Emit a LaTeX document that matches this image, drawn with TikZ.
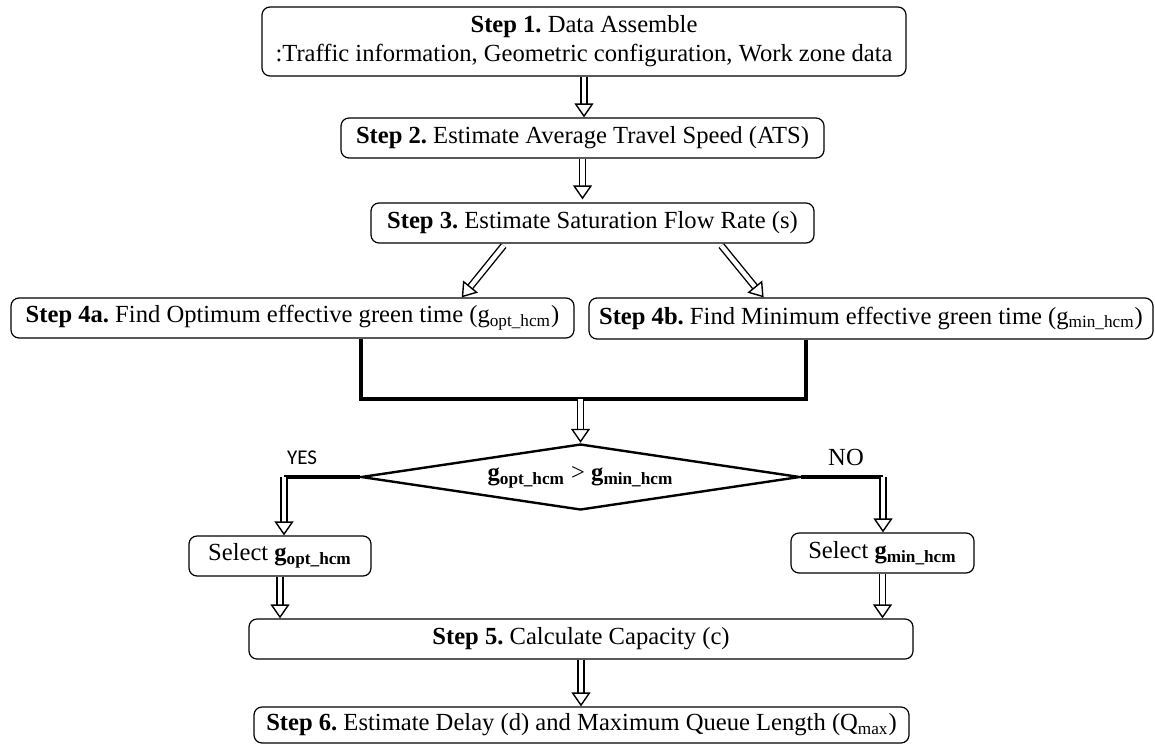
\documentclass[tikz,border=0pt]{standalone}
\usepackage{fontspec}
\setmainfont{Liberation Serif}
\newfontfamily\yesfont{Carlito}
\usepackage{tikz}
\usetikzlibrary{arrows.meta}
\usetikzlibrary{shapes.geometric}
\usetikzlibrary{calc}
\frenchspacing
\tikzset{box/.style={draw, rounded corners=4pt, line width=0.6pt, align=center, inner sep=0pt}}
\tikzset{flow/.style={double, double distance=2.2pt, line width=0.7pt,
  -{Triangle[open, fill=white, length=7pt, width=9.5pt, line width=0.7pt]}}}
\tikzset{merge/.style={line width=2pt}}
\tikzset{l/.style={font=\fontsize{12.3}{14.5}\selectfont}}

\begin{document}
\begin{tikzpicture}[x=0.5pt, y=-0.5pt, l]
    \useasboundingbox (0,0) rectangle (1155,744);
    \node[box, minimum width=322pt, minimum height=34.5pt] (step1) at (584,41.5)
      {\textbf{Step 1.} Data Assemble\\:Traffic information, Geometric configuration, Work zone data};
    \node[box, minimum width=241.5pt, minimum height=20pt] (step2) at (582.5,138)
      {\textbf{Step 2.} Estimate Average Travel Speed (ATS)};
    \node[box, minimum width=221.5pt, minimum height=20pt] (step3) at (592.5,223)
      {\textbf{Step 3.} Estimate Saturation Flow Rate (s)};
    \node[box, minimum width=281.5pt, minimum height=20pt] (step4a) at (292.5,318)
      {\textbf{Step 4a.} Find Optimum effective green time (g\textsubscript{opt\_hcm})};
    \node[box, minimum width=282pt, minimum height=20.5pt] (step4b) at (871,318.5)
      {\textbf{Step 4b.} Find Minimum effective green time (g\textsubscript{min\_hcm})};
    \node[diamond, draw, line width=1.2pt, aspect=6.6, inner sep=0pt,
      minimum width=219.5pt, minimum height=33pt] (test) at (580.5,477)
      {\textbf{g\textsubscript{opt\_hcm}} > \textbf{g\textsubscript{min\_hcm}}};
    \node[box, minimum width=91pt, minimum height=20pt] (selopt) at (280,556)
      {Select \textbf{g\textsubscript{opt\_hcm}}};
    \node[box, minimum width=91.5pt, minimum height=20pt] (selmin) at (882.5,553)
      {Select \textbf{g\textsubscript{min\_hcm}}};
    \node[box, minimum width=332pt, minimum height=20pt] (step5) at (581,639)
      {\textbf{Step 5.} Calculate Capacity (c)};
    \node[box, minimum width=327.5pt, minimum height=18pt] (step6) at (581.5,725)
      {\textbf{Step 6.} Estimate Delay (d) and Maximum Queue Length (Q\textsubscript{max})};
    \node[font=\yesfont\fontsize{10.5}{12}\selectfont] (yes) at (302,458) {YES};
    \node (no) at (846,457) {NO};
    \coordinate (mergeL) at (361,399);
    \coordinate (mergeR) at (806,399);
    \coordinate (yesc) at (284,477);
    \coordinate (noc) at (883,477);

    \draw[flow] (step1.south) -- (step1.south |- step2.north);
    \draw[flow] (step2.south) -- ($(step2.south |- step3.north)+(0,-3)$);
    \draw[flow] ($(step3.south west)!.3!(step3.south east)+(0,2)$)
      -- ($(step4a.north west)!.8!(step4a.north east)$);
    \draw[flow] ($(step3.south west)!.79!(step3.south east)+(0,2)$)
      -- ($(step4b.north west)!.31!(step4b.north east)$);
    \draw[merge] (step4a.south -| mergeL) -- (mergeL) -- (mergeR) -- (step4b.south -| mergeR);
    \draw[flow] (mergeL -| test.north) -- (test.north);
    \draw[merge] (test.west) -- (yesc);
    \draw[merge] (test.east) -- (noc);
    \draw[flow] (yesc) -- (yesc |- selopt.north);
    \draw[flow] (noc) -- (noc |- selmin.north);
    \draw[flow] (selopt.south) -- (selopt.south |- step5.north);
    \draw[flow] (selmin.south) -- (selmin.south |- step5.north);
    \draw[flow] (step5.south) -- (step5.south |- step6.north);
  \end{tikzpicture}
\end{document}
